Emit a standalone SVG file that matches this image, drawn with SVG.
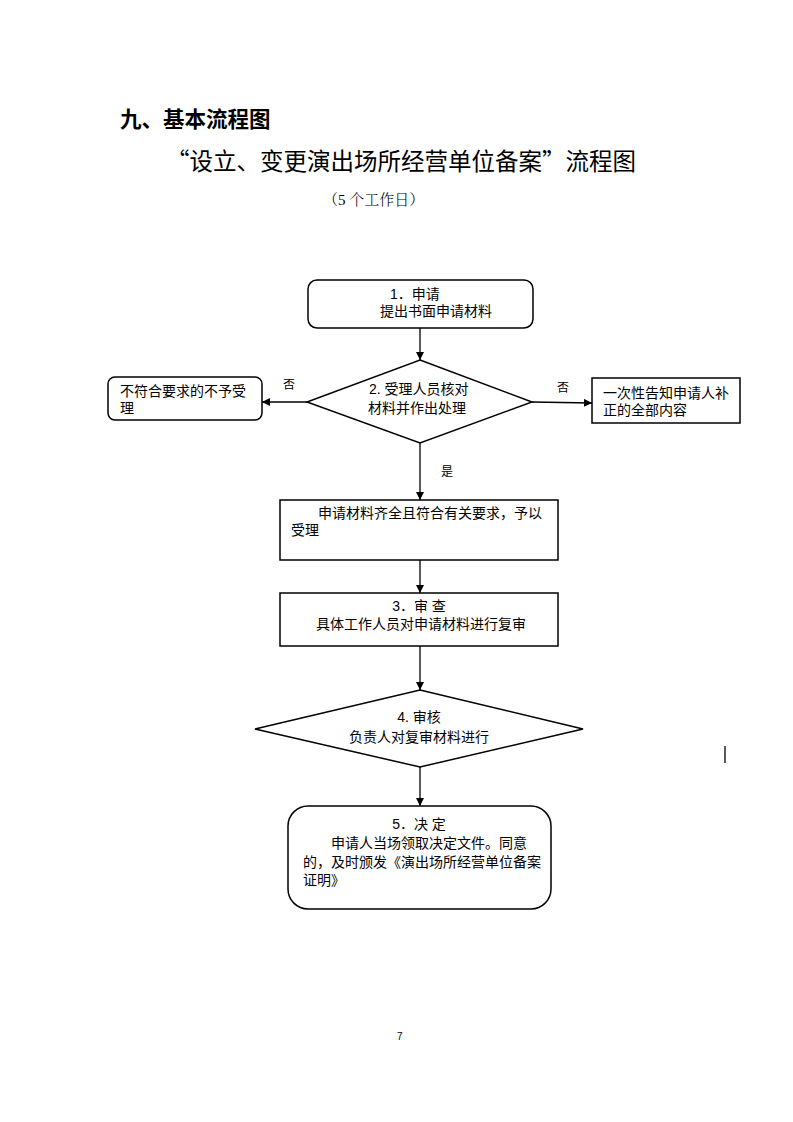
<svg xmlns="http://www.w3.org/2000/svg" width="793" height="1122" viewBox="0 0 793 1122">
<defs>
<style>
.t{font-family:"Liberation Sans","Noto Sans CJK SC",sans-serif;font-size:14px;fill:#000}
.s{font-family:"Liberation Serif","Noto Serif CJK SC","Noto Sans CJK SC",serif;fill:#000}
.box{fill:#fff;stroke:#000;stroke-width:1.5}
.ln{stroke:#000;stroke-width:1.3;fill:none}
</style>
<marker id="ah" viewBox="0 0 10 10" refX="10" refY="5" markerWidth="8" markerHeight="8" markerUnits="userSpaceOnUse" orient="auto">
<path d="M0,0 L10,5 L0,10 z" fill="#000"/>
</marker>
</defs>
<rect width="793" height="1122" fill="#fff"/>
<text x="120" y="127" style="font-family:'Noto Sans CJK SC',sans-serif;font-size:21.5px;font-weight:bold">九、基本流程图</text>
<text x="166" y="170" style="font-family:'Noto Sans CJK SC',sans-serif;font-size:23.5px">“设立、变更演出场所经营单位备案”流程图</text>
<text x="323" y="205" class="s" style="font-size:15px;font-weight:300">（5 个工作日）</text>

<g id="connectors">
<line class="ln" x1="420" y1="328" x2="420" y2="360" marker-end="url(#ah)"/>
<line class="ln" x1="307" y1="402" x2="262" y2="402" marker-end="url(#ah)"/>
<line class="ln" x1="532" y1="402" x2="592" y2="403" marker-end="url(#ah)"/>
<line class="ln" x1="420" y1="443" x2="420" y2="500" marker-end="url(#ah)"/>
<line class="ln" x1="420" y1="560" x2="420" y2="593" marker-end="url(#ah)"/>
<line class="ln" x1="420" y1="646" x2="420" y2="690" marker-end="url(#ah)"/>
<line class="ln" x1="420" y1="767" x2="420" y2="806" marker-end="url(#ah)"/>
<text x="283" y="389" class="t" style="font-size:12px">否</text>
<text x="557" y="392" class="t" style="font-size:12px">否</text>
<text x="441" y="476" class="t" style="font-size:12px">是</text>
</g>

<g id="n1">
<rect class="box" x="308" y="280" width="225" height="48" rx="9"/>
<text x="390" y="299" class="t">1．申请</text>
<text x="380" y="316" class="t">提出书面申请材料</text>
</g>

<g id="n2">
<polygon class="box" points="420,360 532,402 420,443 307,402"/>
<text x="369" y="394" class="t">2. 受理人员核对</text>
<text x="368" y="413" class="t">材料并作出处理</text>
</g>

<g id="n-reject">
<rect class="box" x="108" y="377" width="154" height="43" rx="7"/>
<text x="120" y="396" class="t">不符合要求的不予受</text>
<text x="120" y="413" class="t">理</text>
</g>

<g id="n-notify">
<rect class="box" x="592" y="378" width="148" height="45"/>
<text x="603" y="398" class="t">一次性告知申请人补</text>
<text x="603" y="415" class="t">正的全部内容</text>
</g>

<g id="n-accept">
<rect class="box" x="280" y="500" width="278" height="60"/>
<text x="318" y="518" class="t">申请材料齐全且符合有关要求，予以</text>
<text x="291" y="535" class="t">受理</text>
</g>

<g id="n3">
<rect class="box" x="280" y="593" width="278" height="53"/>
<text x="419" y="611" class="t" text-anchor="middle">3．审 查</text>
<text x="421" y="629" class="t" text-anchor="middle">具体工作人员对申请材料进行复审</text>
</g>

<g id="n4">
<polygon class="box" points="420,690 583,729 420,767 255,729"/>
<text x="419" y="722" class="t" text-anchor="middle">4. 审核</text>
<text x="419" y="742" class="t" text-anchor="middle">负责人对复审材料进行</text>
</g>

<line x1="725" y1="746" x2="725" y2="763" stroke="#000" stroke-width="1.3"/>

<g id="n5">
<rect class="box" x="288" y="806" width="263" height="103" rx="20"/>
<text x="419" y="829" class="t" text-anchor="middle">5．决 定</text>
<text x="331" y="848" class="t">申请人当场领取决定文件。同意</text>
<text x="303" y="867" class="t">的，及时颁发《演出场所经营单位备案</text>
<text x="303" y="885" class="t">证明》</text>
</g>

<text x="397" y="1040" class="t" style="font-size:10px">7</text>
</svg>
